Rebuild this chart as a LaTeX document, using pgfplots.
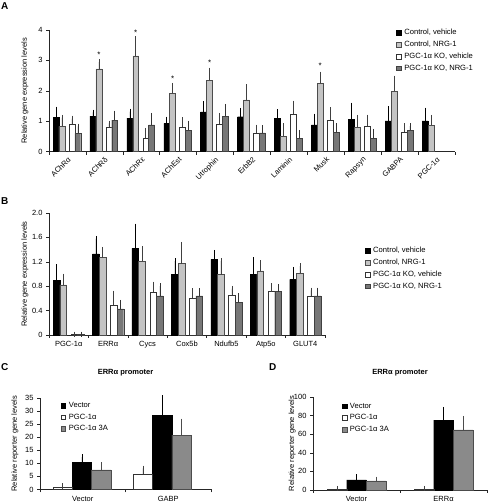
\documentclass[border=0pt]{standalone}
\usepackage{pgfplots}
\usepackage{pgfplotstable}
\pgfplotsset{compat=1.18}
\usepackage{fontspec}
\setmainfont{Liberation Sans}

\definecolor{lgray}{HTML}{C4C4C4}
\definecolor{dgray}{HTML}{777777}
\definecolor{mgray}{HTML}{8A8A8A}

\pgfplotsset{
  sq legend/.style={legend image code/.code={\draw[##1,line width=0.4pt] (0pt,-2.3pt) rectangle (4.6pt,2.3pt); \path (6.4pt,0pt);}},
  mybar/.style={ybar, bar shift=0pt, bar width=#1, sq legend, line width=0.4pt},
  errs/.style={error bars/.cd, y dir=plus, y explicit,
     error bar style={line width=0.5pt, #1},
     error mark options={line width=0.5pt, #1, mark size=2.8pt}},
  fig/.style={
    scale only axis,
    anchor=south west,
    axis lines*=left,
    tick align=outside,
    major tick length=3pt,
    axis line style={line width=0.5pt, black!85},
    tick style={black!85, line width=0.5pt},
    /pgf/number format/assume math mode=true,
    tick label style={font=\fontsize{7.5}{9}\selectfont},
    label style={font=\fontsize{7.5}{9}\selectfont},
    legend style={draw=none, fill=none, font=\fontsize{7.6}{9}\selectfont,
      row sep=2.4pt, inner sep=0pt, nodes={inner sep=1.2pt}},
    legend cell align=left,
    clip=false,
  }
}

% ---------- Panel A ----------
\pgfplotstableread{
x y e
0.5 1.13 0.26
1.5 1.17 0.12
2.5 1.10 0.22
3.5 0.93 0.13
4.5 1.31 0.25
5.5 1.15 0.20
6.5 1.10 0.20
7.5 0.88 0.28
8.5 1.07 0.45
9.5 1.01 0.39
10.5 1.01 0.35
}\Aa
\pgfplotstableread{
x y e
0.5 0.83 0.29
1.5 2.72 0.22
2.5 3.15 0.55
3.5 1.92 0.25
4.5 2.35 0.32
5.5 1.70 0.42
6.5 0.51 0.33
7.5 2.25 0.29
8.5 0.81 0.31
9.5 1.99 0.42
10.5 0.87 0.25
}\Ab
\pgfplotstableread{
x y e
0.5 0.90 0.19
1.5 0.82 0.11
2.5 0.45 0.24
3.5 0.82 0.22
4.5 0.90 0.28
5.5 0.60 0.20
6.5 1.24 0.35
7.5 1.04 0.33
8.5 0.84 0.29
9.5 0.64 0.21
}\Ac
\pgfplotstableread{
x y e
0.5 0.60 0.23
1.5 1.04 0.22
2.5 0.88 0.30
3.5 0.71 0.22
4.5 1.17 0.31
5.5 0.62 0.15
6.5 0.44 0.18
7.5 0.64 0.20
8.5 0.44 0.22
9.5 0.71 0.13
}\Ad

% ---------- Panel B ----------
\pgfplotstableread{
x y e
0.5 0.90 0.21
1.5 1.33 0.25
2.5 1.42 0.36
3.5 0.99 0.22
4.5 1.24 0.11
5.5 0.99 0.24
6.5 0.91 0.16
}\Ba
\pgfplotstableread{
x y e
0.5 0.82 0.14
1.5 1.27 0.13
2.5 1.21 0.20
3.5 1.17 0.31
4.5 0.99 0.22
5.5 1.05 0.13
6.5 1.01 0.12
}\Bb
\pgfplotstableread{
x y e
0.5 0.01 0.0
1.5 0.49 0.19
2.5 0.70 0.13
3.5 0.61 0.11
4.5 0.66 0.10
5.5 0.71 0.09
6.5 0.64 0.09
}\Bc
\pgfplotstableread{
x y e
0.5 0.01 0.0
1.5 0.43 0.10
2.5 0.64 0.16
3.5 0.64 0.08
4.5 0.54 0.10
5.5 0.71 0.08
6.5 0.64 0.09
}\Bd

% ---------- Panel C ----------
\pgfplotstableread{
x y e
0.49 10.3 2.1
1.43 28.4 6.5
}\Ca
\pgfplotstableread{
x y e
0.49 1.0 0.3
1.43 5.9 2.2
}\Cb
\pgfplotstableread{
x y e
0.49 7.5 1.9
1.43 20.8 5.2
}\Cc

% ---------- Panel D ----------
\pgfplotstableread{
x y e
0.5 10.8 2.9
1.5 75.2 11.1
}\Da
\pgfplotstableread{
x y e
0.5 1.1 0.3
1.5 1.1 0.3
}\Db
\pgfplotstableread{
x y e
0.5 9.7 1.8
1.5 64.7 11.9
}\Dc

\begin{document}
\begin{tikzpicture}
\useasboundingbox (0,0) rectangle (490pt,502pt);

\node[anchor=north west, font=\bfseries\fontsize{10}{12}\selectfont, inner sep=0pt] at (1pt,500pt) {A};
\node[anchor=north west, font=\bfseries\fontsize{10}{12}\selectfont, inner sep=0pt] at (1pt,305pt) {B};
\node[anchor=north west, font=\bfseries\fontsize{10}{12}\selectfont, inner sep=0pt] at (1pt,139pt) {C};
\node[anchor=north west, font=\bfseries\fontsize{10}{12}\selectfont, inner sep=0pt] at (269pt,139pt) {D};

% ===== A =====
\begin{axis}[fig, at={(49pt,350.3pt)}, width=406pt, height=121.7pt,
  xmin=0, xmax=11, ymin=0, ymax=4, ytick={0,1,2,3,4},
  xtick={0,...,11}, x tick label as interval,
  xticklabels={AChRα,AChRδ,AChRε,AChEst,Utrophin,ErbB2,Laminin,Musk,Rapsyn,GABPA,PGC-1α},
  xticklabel style={rotate=45, anchor=north east, inner sep=1pt},
  ylabel={Relative gene expression levels},
  ylabel style={at={(axis description cs:-0.059,0.5)}, anchor=center},
  legend style={at={(0.855,1.016)}, anchor=north west}]
\addplot[mybar=0.16, fill=black, draw=black, errs=black] table[x expr=\thisrow{x}-0.31, y=y, y error=e]{\Aa};
\addlegendentry{Control, vehicle}
\addplot[mybar=0.16, fill=lgray, draw=black!70, errs=black!75] table[x expr=\thisrow{x}-0.15, y=y, y error=e]{\Ab};
\addlegendentry{Control, NRG-1}
\addplot[mybar=0.16, fill=white, draw=black!80, errs=black!75] table[x expr=\thisrow{x}+0.12, y=y, y error=e]{\Ac};
\addlegendentry{PGC-1α KO, vehicle}
\addplot[mybar=0.16, fill=dgray, draw=black!75, errs=black!80] table[x expr=\thisrow{x}+0.28, y=y, y error=e]{\Ad};
\addlegendentry{PGC-1α KO, NRG-1}
\node[font=\fontsize{8}{9}\selectfont] at (axis cs:1.35,3.18) {*};
\node[font=\fontsize{8}{9}\selectfont] at (axis cs:2.35,3.92) {*};
\node[font=\fontsize{8}{9}\selectfont] at (axis cs:3.35,2.40) {*};
\node[font=\fontsize{8}{9}\selectfont] at (axis cs:4.35,2.92) {*};
\node[font=\fontsize{8}{9}\selectfont] at (axis cs:7.35,2.83) {*};
\end{axis}

% ===== B =====
\begin{axis}[fig, at={(49pt,167pt)}, width=276pt, height=122pt,
  xmin=0, xmax=7, ymin=0, ymax=2, ytick={0,0.4,0.8,1.2,1.6,2.0},
  yticklabels={0,0.4,0.8,1.2,1.6,2.0},
  xtick={0,...,7}, x tick label as interval,
  xticklabels={PGC-1α,ERRα,Cycs,Cox5b,Ndufb5,Atp5o,GLUT4},
  ylabel={Relative gene expression levels},
  ylabel style={at={(axis description cs:-0.087,0.5)}, anchor=center},
  legend style={at={(1.145,0.73)}, anchor=north west}]
\addplot[mybar=0.17, fill=black, draw=black, errs=black] table[x expr=\thisrow{x}-0.31, y=y, y error=e]{\Ba};
\addlegendentry{Control, vehicle}
\addplot[mybar=0.17, fill=lgray, draw=black!70, errs=black!75] table[x expr=\thisrow{x}-0.14, y=y, y error=e]{\Bb};
\addlegendentry{Control, NRG-1}
\addplot[mybar=0.17, fill=white, draw=black!80, errs=black!75] table[x expr=\thisrow{x}+0.14, y=y, y error=e]{\Bc};
\addlegendentry{PGC-1α KO, vehicle}
\addplot[mybar=0.17, fill=dgray, draw=black!75, errs=black!80] table[x expr=\thisrow{x}+0.31, y=y, y error=e]{\Bd};
\addlegendentry{PGC-1α KO, NRG-1}
\end{axis}

% ===== C =====
\begin{axis}[fig, at={(40pt,12.5pt)}, width=171pt, height=91.5pt,
  xmin=0, xmax=2, ymin=0, ymax=35, ytick={0,5,...,35},
  xtick={0,1,2}, x tick label as interval,
  xticklabels={Vector,GABP},
  title={ERRα promoter},
  title style={at={(axis description cs:0.5,1.21)}, anchor=center, font=\bfseries\fontsize{7.5}{9}\selectfont},
  ylabel={Relative reporter gene levels},
  ylabel style={at={(axis description cs:-0.146,0.5)}, anchor=center},
  legend style={at={(0.121,0.967)}, anchor=north west}]
\addplot[mybar=0.226, fill=black, draw=black, errs=black] table[x=x, y=y, y error=e]{\Ca};
\addlegendentry{Vector}
\addplot[mybar=0.226, fill=white, draw=black!80, errs=black!75] table[x expr=\thisrow{x}-0.226, y=y, y error=e]{\Cb};
\addlegendentry{PGC-1α}
\addplot[mybar=0.226, fill=mgray, draw=black!70, errs=black!70] table[x expr=\thisrow{x}+0.226, y=y, y error=e]{\Cc};
\addlegendentry{PGC-1α 3A}
\end{axis}

% ===== D =====
\begin{axis}[fig, at={(313pt,12pt)}, width=174pt, height=93pt,
  xmin=0, xmax=2, ymin=0, ymax=100, ytick={0,20,...,100},
  xtick={0,1,2}, x tick label as interval,
  xticklabels={Vector,ERRα},
  title={ERRα promoter},
  title style={at={(axis description cs:0.5,1.2)}, anchor=center, font=\bfseries\fontsize{7.5}{9}\selectfont},
  ylabel={Relative reporter gene levels},
  ylabel style={at={(axis description cs:-0.12,0.5)}, anchor=center},
  legend style={at={(0.165,0.952)}, anchor=north west}]
\addplot[mybar=0.225, fill=black, draw=black, errs=black] table[x=x, y=y, y error=e]{\Da};
\addlegendentry{Vector}
\addplot[mybar=0.225, fill=white, draw=black!80, errs=black!75] table[x expr=\thisrow{x}-0.225, y=y, y error=e]{\Db};
\addlegendentry{PGC-1α}
\addplot[mybar=0.225, fill=mgray, draw=black!70, errs=black!70] table[x expr=\thisrow{x}+0.225, y=y, y error=e]{\Dc};
\addlegendentry{PGC-1α 3A}
\end{axis}
\end{tikzpicture}
\end{document}
